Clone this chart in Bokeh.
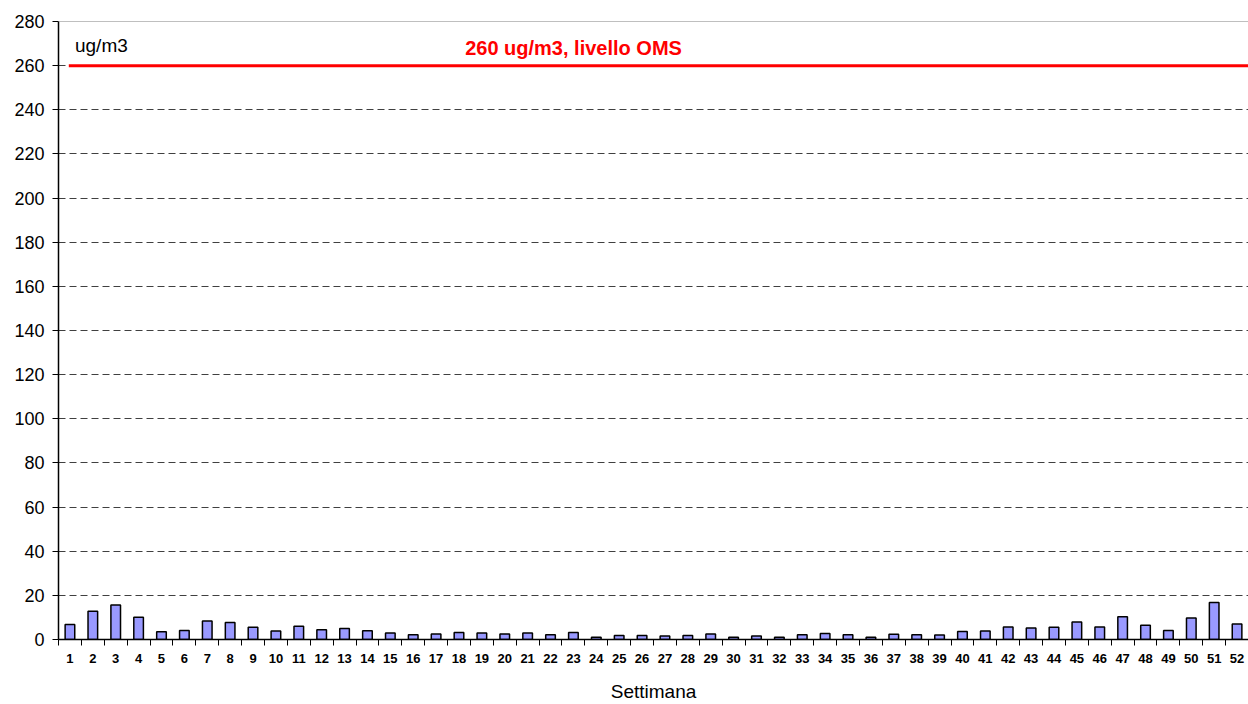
from bokeh.plotting import figure
from bokeh.models import FixedTicker, Span, Label, Range1d, ColumnDataSource
from bokeh.embed import file_html
from bokeh.resources import INLINE

weeks = list(range(1, 53))
values = [6.8, 12.8, 15.6, 10.1, 3.5, 4.1, 8.4, 7.7, 5.6, 3.8,
          6.0, 4.4, 5.0, 4.0, 3.0, 2.1, 2.5, 3.2, 2.9, 2.5,
          3.0, 2.1, 3.2, 1.0, 1.8, 1.8, 1.6, 1.8, 2.5, 1.0,
          1.6, 1.0, 2.1, 2.7, 2.1, 1.0, 2.4, 2.1, 2.0, 3.6,
          3.8, 5.7, 5.2, 5.6, 7.9, 5.7, 10.3, 6.5, 4.1, 9.7,
          16.8, 7.0]
y_ticks = list(range(0, 281, 20))
oms_level = 260
oms_label = "260 ug/m3, livello OMS"
unit_label = "ug/m3"
x_title = "Settimana"

FONT = "Liberation Sans"

p = figure(width=1248, height=704, output_backend="svg", toolbar_location=None,
           x_range=Range1d(0.5, 52.5), y_range=Range1d(0, 280),
           min_border_left=58, min_border_right=0, min_border_top=21)
p.outline_line_color = None
p.background_fill_color = "white"

src = ColumnDataSource(dict(x=weeks, top=values))
p.vbar(x="x", top="top", width=0.42, bottom=0, source=src,
       fill_color="#9999FF", line_color="black", line_width=1.5)

# WHO level line
p.segment(x0=[weeks[0] - 0.05], x1=[weeks[-1] + 0.5], y0=[oms_level], y1=[oms_level],
          line_color="#FF0000", line_width=3)

# top frame line
p.add_layout(Span(location=y_ticks[-1], dimension="width", line_color="#808080", line_width=1))

p.add_layout(Label(x=1.22, y=269, text=unit_label, text_font=FONT, text_font_size="19px",
                   text_baseline="middle", text_color="black"))
p.add_layout(Label(x=18.27, y=268, text=oms_label, text_font=FONT, text_font_size="20px",
                   text_font_style="bold", text_baseline="middle", text_color="#FF0000"))

# y axis
yax = p.yaxis[0]
yax.ticker = FixedTicker(ticks=y_ticks)
yax.major_label_text_font = FONT
yax.major_label_text_font_size = "18px"
yax.major_label_text_color = "black"
yax.major_tick_out = 6
yax.major_tick_in = 0
yax.minor_tick_out = 0
yax.minor_tick_in = 0
yax.major_label_standoff = 8
yax.axis_line_color = "black"
yax.axis_line_width = 1.5
yax.major_tick_line_color = "black"

# x axis
xax = p.xaxis[0]
xax.ticker = FixedTicker(ticks=weeks, minor_ticks=[w + 0.5 for w in [0] + weeks])
xax.major_tick_out = 0
xax.major_tick_in = 0
xax.minor_tick_out = 6
xax.minor_tick_in = 0
xax.minor_tick_line_color = "black"
xax.major_label_text_font = FONT
xax.major_label_text_font_size = "13px"
xax.major_label_text_font_style = "bold"
xax.major_label_text_color = "black"
xax.major_label_standoff = 8
xax.axis_line_color = "black"
xax.axis_line_width = 1.5
xax.axis_label = x_title
xax.axis_label_text_font = FONT
xax.axis_label_text_font_size = "19px"
xax.axis_label_text_font_style = "normal"
xax.axis_label_text_color = "black"
xax.axis_label_standoff = 15

p.xgrid.grid_line_color = None
p.ygrid.ticker = FixedTicker(ticks=y_ticks[1:-1])
p.ygrid.grid_line_color = "#404040"
p.ygrid.grid_line_dash = "7 4"
p.ygrid.grid_line_width = 1

open("out.html", "w").write(file_html(p, INLINE))
